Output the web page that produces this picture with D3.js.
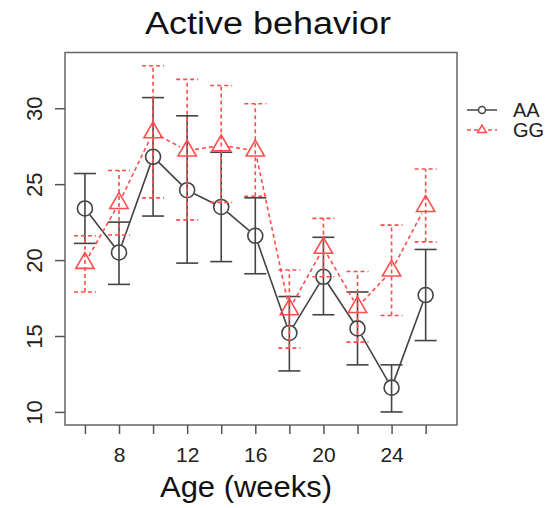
<!DOCTYPE html>
<html>
<head>
<meta charset="utf-8">
<script src="https://cdn.jsdelivr.net/npm/d3@7"></script>
<style>
  body { margin: 0; background: #fff; }
  svg { display: block; font-family: "Liberation Sans", Arial, sans-serif; }
</style>
</head>
<body>
<svg id="chart" width="551" height="508"></svg>
<script>
const weeks = [6, 8, 10, 12, 14, 16, 18, 20, 22, 24, 26];

const aaMean  = [23.4, 20.5, 26.8, 24.6, 23.5, 21.6, 15.2, 18.9, 15.5, 11.6, 17.7];
const aaUpper = [25.7, 22.5, 30.7, 29.5, 27.1, 24.1, 17.6, 21.5, 17.9, 13.1, 20.7];
const aaLower = [21.1, 18.4, 22.9, 19.8, 19.9, 19.1, 12.7, 16.4, 13.1, 10.0, 14.7];

const ggMean  = [19.8, 23.75, 28.4, 27.2, 27.55, 27.2, 16.75, 20.8, 16.9, 19.3, 23.55];
const ggUpper = [21.6, 25.9, 32.8, 31.9, 31.5, 30.3, 19.35, 22.75, 19.25, 22.3, 26.0];
const ggLower = [17.9, 21.65, 24.1, 22.65, 23.8, 24.2, 14.2, 18.9, 14.6, 16.35, 21.2];

const xTicks = [6, 8, 10, 12, 14, 16, 18, 20, 22, 24, 26];
const xLabels = [8, 12, 16, 20, 24];
const yTicks = [10, 15, 20, 25, 30];

const svg = d3.select("#chart");
const plotLeft = 65, plotRight = 457, plotTop = 52.5, plotBottom = 425;

const x = d3.scaleLinear().domain([4.83, 27.84]).range([plotLeft, plotRight]);
const y = d3.scaleLinear().domain([9.14, 33.67]).range([plotBottom, plotTop]);

const black = "#444";
const red = "#ff4d4d";

// box
svg.append("rect")
  .attr("x", plotLeft).attr("y", plotTop)
  .attr("width", plotRight - plotLeft).attr("height", plotBottom - plotTop)
  .attr("fill", "none").attr("stroke", "#666").attr("stroke-width", 1.5);

// x axis
const xAxis = svg.append("g").attr("transform", `translate(0,${plotBottom})`)
  .call(d3.axisBottom(x).tickValues(xTicks).tickSize(9).tickSizeOuter(0)
    .tickFormat((d) => (xLabels.includes(d) ? d : "")));
xAxis.select(".domain").remove();
xAxis.selectAll(".tick line").attr("stroke", "#555").attr("stroke-width", 1.5);
xAxis.selectAll(".tick text").attr("font-size", 21).attr("fill", "#222")
  .attr("dy", 0).attr("y", 37);

// y axis
const yAxis = svg.append("g").attr("transform", `translate(${plotLeft},0)`)
  .call(d3.axisLeft(y).tickValues(yTicks).tickSize(10).tickSizeOuter(0));
yAxis.select(".domain").remove();
yAxis.selectAll(".tick line").attr("stroke", "#555").attr("stroke-width", 1.5);
yAxis.selectAll(".tick text")
  .attr("font-size", 22).attr("fill", "#222")
  .attr("x", null).attr("dy", null)
  .attr("text-anchor", "middle")
  .attr("transform", "translate(-23,0) rotate(-90)");

// titles
svg.append("text").attr("x", 268).attr("y", 34)
  .attr("text-anchor", "middle").attr("font-size", 31).attr("fill", "#111")
  .attr("textLength", 246).attr("lengthAdjust", "spacingAndGlyphs")
  .text("Active behavior");
svg.append("text").attr("x", 246).attr("y", 497)
  .attr("text-anchor", "middle").attr("font-size", 29).attr("fill", "#111")
  .attr("textLength", 172).attr("lengthAdjust", "spacingAndGlyphs")
  .text("Age (weeks)");

function trianglePath(cx, cy, s) {
  const r = 1.555 * s, hw = 1.347 * s, b = 0.778 * s;
  return `M${cx},${cy - r}L${cx + hw},${cy + b}L${cx - hw},${cy + b}Z`;
}

function drawSeries(mean, upper, lower, color, dash, shape) {
  const g = svg.append("g");
  const pts = weeks.map((w, i) => [x(w), y(mean[i])]);
  const gap = 8;

  // connecting segments with gaps at points (type = "b")
  for (let i = 0; i < pts.length - 1; i++) {
    const [x1, y1] = pts[i], [x2, y2] = pts[i + 1];
    const len = Math.hypot(x2 - x1, y2 - y1);
    if (len <= 2 * gap) continue;
    const ux = (x2 - x1) / len, uy = (y2 - y1) / len;
    g.append("line")
      .attr("x1", x1 + ux * gap).attr("y1", y1 + uy * gap)
      .attr("x2", x2 - ux * gap).attr("y2", y2 - uy * gap)
      .attr("stroke", color).attr("stroke-width", 1.6)
      .attr("stroke-dasharray", dash);
  }

  // error bars
  weeks.forEach((w, i) => {
    const cx = x(w);
    g.append("line")
      .attr("x1", cx).attr("x2", cx)
      .attr("y1", y(lower[i])).attr("y2", y(upper[i]))
      .attr("stroke", color).attr("stroke-width", 1.6)
      .attr("stroke-dasharray", dash);
    [upper[i], lower[i]].forEach((v) => {
      g.append("line")
        .attr("x1", cx - 11).attr("x2", cx + 11)
        .attr("y1", y(v)).attr("y2", y(v))
        .attr("stroke", color).attr("stroke-width", 1.6)
        .attr("stroke-dasharray", dash);
    });
  });

  // points
  if (shape === "circle") {
    g.selectAll("circle.pt").data(pts).join("circle")
      .attr("class", "pt")
      .attr("cx", (d) => d[0]).attr("cy", (d) => d[1]).attr("r", 7.5)
      .attr("fill", "none").attr("stroke", color).attr("stroke-width", 1.6);
  } else {
    g.selectAll("path.pt").data(pts).join("path")
      .attr("class", "pt")
      .attr("d", (d) => trianglePath(d[0], d[1], 6.8))
      .attr("fill", "none").attr("stroke", color).attr("stroke-width", 1.6);
  }
}

drawSeries(aaMean, aaUpper, aaLower, black, null, "circle");
drawSeries(ggMean, ggUpper, ggLower, red, "4,3", "triangle");

// legend
const legend = svg.append("g");
const legendItems = [
  { label: "AA", color: black, dash: null, shape: "circle", y: 110 },
  { label: "GG", color: red, dash: "4,3", shape: "triangle", y: 130 },
];
legendItems.forEach((d) => {
  legend.append("line")
    .attr("x1", 467).attr("x2", 497).attr("y1", d.y).attr("y2", d.y)
    .attr("stroke", d.color).attr("stroke-width", 1.5)
    .attr("stroke-dasharray", d.dash);
  if (d.shape === "circle") {
    legend.append("circle").attr("cx", 482).attr("cy", d.y).attr("r", 3.5)
      .attr("fill", "#fff").attr("stroke", d.color).attr("stroke-width", 1.5);
  } else {
    legend.append("path").attr("d", trianglePath(482, d.y, 3.2))
      .attr("fill", "#fff").attr("stroke", d.color).attr("stroke-width", 1.5);
  }
  legend.append("text").attr("x", 513).attr("y", d.y + 6.5)
    .attr("font-size", 20).attr("fill", "#222").text(d.label);
});
</script>
</body>
</html>
